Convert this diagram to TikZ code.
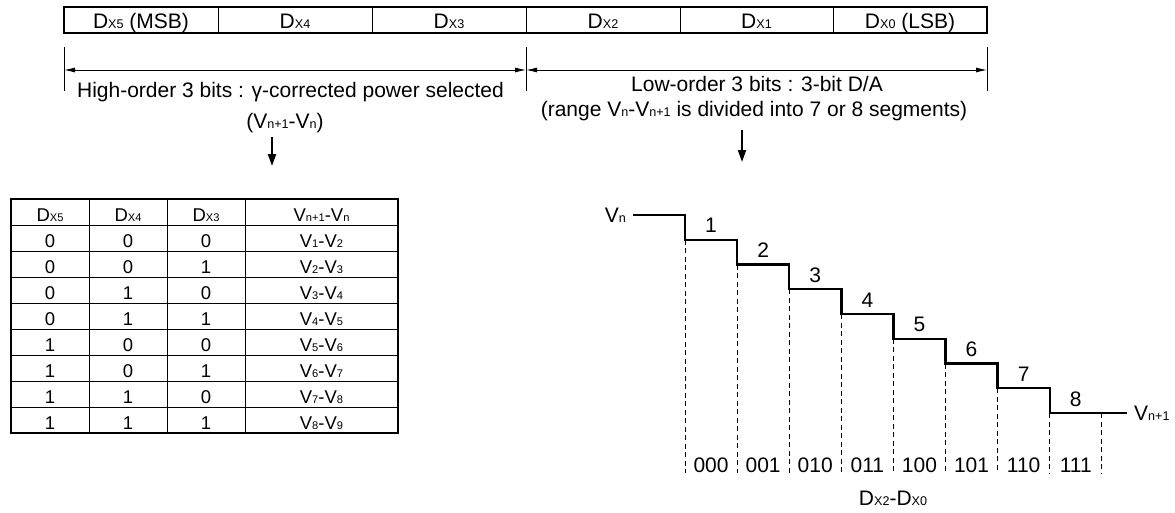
\documentclass[tikz,border=0pt]{standalone}
\usepackage{fontspec}
\setmainfont{Liberation Sans}
\usepackage{graphicx}
\usetikzlibrary{arrows.meta}
\newcommand\lsb[1]{\raisebox{-0.03em}{\scalebox{0.6}{#1}}}
\begin{document}
\begin{tikzpicture}[x=1pt,y=-1pt,
  txt/.style={font=\fontsize{21}{24}\selectfont, inner sep=0pt},
  tbl/.style={font=\fontsize{18.5}{21}\selectfont, inner sep=0pt},
  thickbox/.style={line width=2pt},
  thinline/.style={line width=0.9pt},
  dimarrow/.style={line width=0.9pt, {Latex[length=11pt,width=5pt]}-{Latex[length=11pt,width=5pt]}},
  downarrow/.style={line width=2pt, -{Triangle[length=12pt,width=8pt]}},
  stair/.style={line width=2.4pt, line join=miter},
  guide/.style={line width=0.8pt, dash pattern=on 5pt off 3.5pt},
]
\useasboundingbox (0,0) rectangle (1175,512);

% ---- bit bar
\foreach \x in {218,372,526,680,833} \draw[thinline] (\x,7) -- (\x,33);
\draw[thickbox] (64,7) rectangle (987,33);
\node[txt,anchor=base] (b5) at (141,28) {D\lsb{X5} (MSB)};
\node[txt,anchor=base] (b4) at (295,28) {D\lsb{X4}};
\node[txt,anchor=base] (b3) at (449,28) {D\lsb{X3}};
\node[txt,anchor=base] (b2) at (603,28) {D\lsb{X2}};
\node[txt,anchor=base] (b1) at (756.5,28) {D\lsb{X1}};
\node[txt,anchor=base] (b0) at (910,28) {D\lsb{X0} (LSB)};

% ---- dimension lines
\coordinate (t1a) at (64,47);  \coordinate (t1b) at (64,91);
\coordinate (t2a) at (526,47); \coordinate (t2b) at (526,91);
\coordinate (t3a) at (987,47); \coordinate (t3b) at (987,91);
\draw[thinline] (t1a) -- (t1b);
\draw[thinline] (t2a) -- (t2b);
\draw[thinline] (t3a) -- (t3b);
\coordinate (dL) at (64,70);
\coordinate (dM) at (526,70);
\coordinate (dR) at (987,70);
\draw[dimarrow] (dL) -- (dM);
\draw[dimarrow] (dM) -- (dR);

\node[txt,anchor=base] (hi) at (290.5,97) {High-order 3 bits : γ-corrected power selected};
\node[txt,anchor=base] (hisub) at (285,128) {(V\lsb{n+1}-V\lsb{n})};
\node[txt,anchor=base] (lo) at (757,91) {Low-order 3 bits : 3-bit D/A};
\node[txt,anchor=base] (losub) at (754,116) {(range V\lsb{n}-V\lsb{n+1} is divided into 7 or 8 segments)};

\coordinate (a1s) at (272,137); \coordinate (a1e) at (272,166);
\coordinate (a2s) at (742,130); \coordinate (a2e) at (742,162);
\draw[downarrow] (a1s) -- (a1e);
\draw[downarrow] (a2s) -- (a2e);

% ---- table
\foreach \x in {89,167,245} \draw[thinline] (\x,199) -- (\x,433);
\foreach \i in {0,...,7} \draw[thinline] (11,225+26*\i) -- (398,225+26*\i);
\draw[thickbox] (11,199) rectangle (398,433);
\node[tbl,anchor=base] (h1) at (50,221) {D\lsb{X5}};
\node[tbl,anchor=base] (h2) at (128,221) {D\lsb{X4}};
\node[tbl,anchor=base] (h3) at (206,221) {D\lsb{X3}};
\node[tbl,anchor=base] (h4) at (321.5,221) {V\lsb{n+1}-V\lsb{n}};
\foreach \a/\b/\c [count=\k] in {0/0/0,0/0/1,0/1/0,0/1/1,1/0/0,1/0/1,1/1/0,1/1/1} {
  \pgfmathtruncatemacro\kk{\k+1}
  \node[tbl,anchor=base] (ra\k) at (50,221+26*\k) {\a};
  \node[tbl,anchor=base] (rb\k) at (128,221+26*\k) {\b};
  \node[tbl,anchor=base] (rc\k) at (206,221+26*\k) {\c};
  \node[tbl,anchor=base] (rv\k) at (321.5,221+26*\k) {V\lsb{\k}-V\lsb{\kk}};
}

% ---- staircase
\draw[stair] (633,215) -| (685,239.75) -| (737.1,264.5) -| (789.2,289.25) -| (841.3,314)
  -| (893.4,338.75) -| (945.5,363.5) -| (997.6,388.25) -| (1049.7,413) -- (1127,413);
\foreach \b [count=\k] in {000,001,010,011,100,101,110,111} {
  \pgfmathsetmacro\xa{685+52.1*(\k-1)}
  \pgfmathsetmacro\xm{685+52.1*(\k-0.5)}
  \pgfmathsetmacro\yl{215+24.75*\k}
  \draw[guide] (\xa,\yl) -- (\xa,473);
  \node[txt,anchor=base] (s\k) at (\xm,\yl-7) {\k};
  \node[txt,anchor=base] (c\k) at (\xm,472) {\b};
}
\draw[guide] (1101.8,413) -- (1101.8,473);
\node[txt,anchor=base east] (vn) at (626,222) {V\lsb{n}};
\node[txt,anchor=base west] (vn1) at (1134,420) {V\lsb{n+1}};
\node[txt,anchor=base] (dx) at (893,505) {D\lsb{X2}-D\lsb{X0}};
\end{tikzpicture}
\end{document}
